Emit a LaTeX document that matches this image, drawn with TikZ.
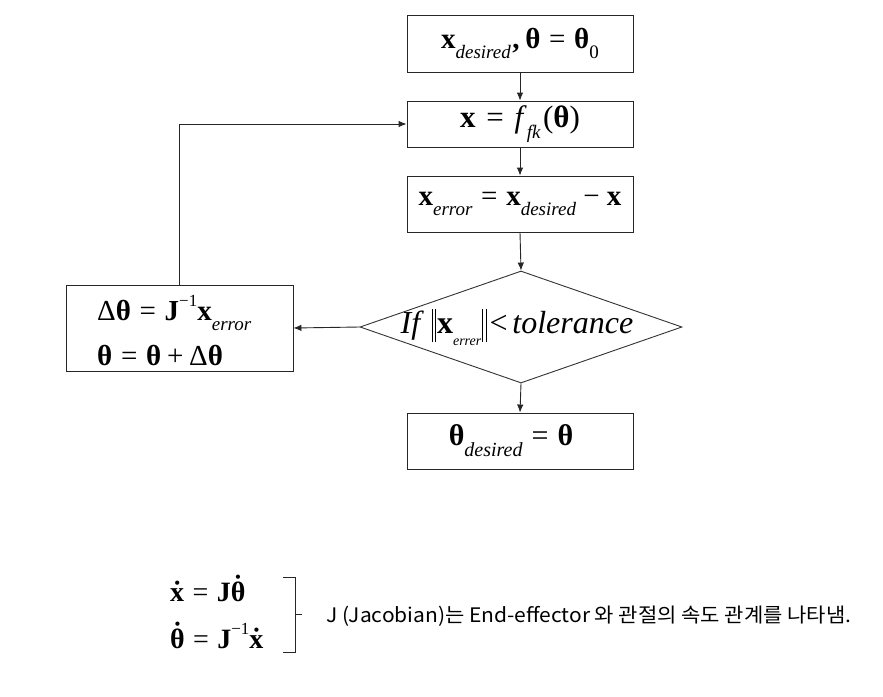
\documentclass[tikz,border=0pt]{standalone}
\usepackage{fontspec}
\setmainfont{Liberation Serif}[ItalicFont={Liberation Serif Italic},BoldFont={Liberation Serif Bold},BoldItalicFont={Liberation Serif Bold Italic}]
\newfontfamily\krfont{Noto Sans CJK KR}
\usetikzlibrary{arrows.meta,shapes.geometric}
\newcommand\mbx{\textbf{x}}
\newcommand\mbt{\textbf{θ}}
\newcommand\mbJ{\textbf{J}}
\newcommand\msub[1]{\raisebox{-0.36em}{\fontsize{19}{19}\selectfont\itshape #1}}
\newcommand\msubs[1]{\raisebox{-0.36em}{\fontsize{14}{14}\selectfont\itshape #1}}
\newcommand\msupinv{\raisebox{0.5em}{\fontsize{17}{17}\selectfont −1}}
\newcommand\meq{\hspace{0.3em}=\hspace{0.3em}}
\newcommand\nbar{\rule[-8pt]{0.8pt}{33pt}\hspace{2.5pt}\rule[-8pt]{0.8pt}{33pt}}
\newcommand\dotx{\ooalign{\textbf{x}\cr\hidewidth\raise.05em\hbox{\textbf{˙}}\hidewidth\cr}}
\newcommand\dott{\ooalign{\textbf{θ}\cr\hidewidth\raise.25em\hbox{\textbf{˙}}\hidewidth\cr}}
\begin{document}
\begin{tikzpicture}[x=1pt,y=-1pt,
  box/.style={draw=black!85, line width=0.9pt, minimum width=226pt, inner sep=0pt, font=\fontsize{29}{30}\selectfont},
  arr/.style={draw=black!85, line width=0.9pt, -{Latex[length=8pt,width=6.5pt]}},
  dia/.style={draw=black!80, line width=0.9pt, shape=diamond, minimum width=322pt, minimum height=112pt, inner sep=0pt},
  eqtext/.style={anchor=west, inner sep=0pt, font=\fontsize{28}{29}\selectfont}]
\useasboundingbox (0,0) rectangle (883,696);
\fill[white] (0,0) rectangle (883,696);
\node[box, minimum height=57pt] (b1) at (520,43.5) {\mbx\msub{desired}\hspace{0.05em}\textbf{,}\hspace{0.2em}\mbt\meq\mbt\raisebox{-0.36em}{\fontsize{19}{19}\selectfont 0}};
\node[box, minimum height=46pt, font=\fontsize{31}{32}\selectfont] (b2) at (520,124) {\mbx\hspace{0.35em}=\hspace{0.35em}\textit{f}\msub{fk}\hspace{0.08em}(\mbt)};
\node[box, minimum height=56pt] (b3) at (520,204) {\mbx\msub{error}\meq\mbx\msub{desired}\hspace{0.25em}−\hspace{0.25em}\mbx};
\node[dia] (d) at (521,327) {};
\node[inner sep=0pt, font=\fontsize{32}{33}\selectfont] (dt) at (517,327) {\textit{If}\hspace{0.25em}\nbar\hspace{1pt}\mbx\msubs{errer}\hspace{1pt}\nbar\hspace{0.1em}<\hspace{0.15em}\textit{tolerance}};
\node[box, minimum width=227pt, minimum height=86pt] (b4) at (179.5,328) {};
\node[anchor=west, inner sep=0pt, font=\fontsize{29}{30}\selectfont] (l1) at (97,313) {Δ\mbt\meq\mbJ\msupinv\mbx\msub{error}};
\node[anchor=west, inner sep=0pt, font=\fontsize{29}{30}\selectfont] (l2) at (97,355) {\mbt\meq\mbt\hspace{0.2em}+\hspace{0.2em}Δ\mbt};
\node[box, minimum height=56pt] (b5) at (520,441) {};
\node[inner sep=0pt, font=\fontsize{30}{31}\selectfont] (b5t) at (511,441) {\mbt\raisebox{-0.36em}{\fontsize{20}{20}\selectfont\itshape desired}\meq\mbt};
\draw[arr] (b1.south) -- (b2.north);
\draw[arr] (b2.south) -- (b3.north);
\draw[arr] (b3.south) -- (d.north);
\draw[arr] (d.south) -- (b5.north);
\draw[arr] (d.west) -- (b4.east);
\draw[arr] (b4.north) |- (b2.west);
\node[eqtext] (e1) at (170,592) {\dotx\meq\mbJ\dott};
\node[eqtext] (e2) at (170,636) {\dott\meq\mbJ\msupinv\dotx};
\draw[line width=0.9pt, black!85] (283,577) -- (295,577) -- (295,652) -- (283,652);
\draw[line width=0.9pt, black!85] (295,614) -- (302,614);
\node[anchor=west, inner sep=0pt, font=\krfont\fontsize{20}{22}\selectfont] (t) at (326,616) {\scalebox{1.05}[1]{J (Jacobian)는 End-effector 와 관절의 속도 관계를 나타냄.}};
\end{tikzpicture}
\end{document}
